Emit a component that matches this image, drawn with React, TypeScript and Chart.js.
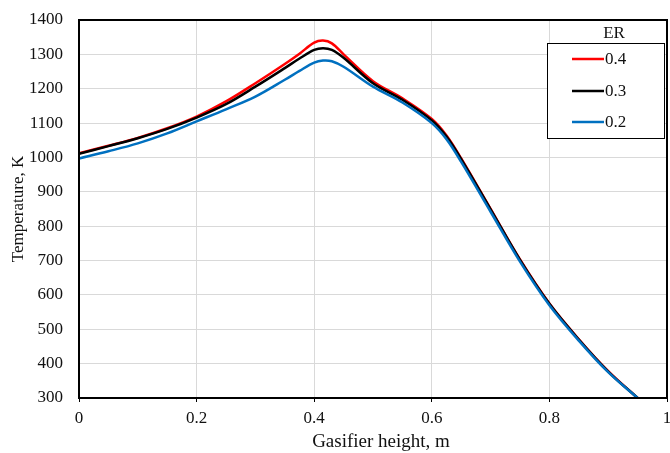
import React, { useEffect, useRef } from "react";
import { Chart, registerables } from "chart.js";

Chart.register(...registerables);

const heights = [0, 0.05, 0.1, 0.15, 0.2, 0.25, 0.3, 0.35, 0.375, 0.4, 0.415, 0.43, 0.45, 0.5, 0.55, 0.6, 0.625, 0.65, 0.7, 0.75, 0.8, 0.85, 0.9, 0.95];
const er04 = [1012, 1034, 1057, 1085, 1119, 1163, 1216, 1272, 1302, 1334, 1340, 1332, 1300, 1222, 1172, 1112, 1064, 997, 850, 703, 575, 471, 378, 300];
const er03 = [1011, 1033, 1056, 1083, 1116, 1155, 1206, 1260, 1288, 1313, 1318, 1313, 1290, 1216, 1168, 1108, 1061, 995, 849, 702, 574, 470, 377, 300];
const er02 = [997, 1018, 1041, 1070, 1105, 1140, 1177, 1226, 1252, 1276, 1282, 1280, 1264, 1206, 1160, 1100, 1053, 987, 842, 697, 570, 467, 375, 300];
const xTicks = [0, 0.2, 0.4, 0.6, 0.8, 1];
const seriesLabels = ["0.4", "0.3", "0.2"];
const seriesColors = ["#ff0000", "#000000", "#0070c0"];
const legendTitle = "ER";
const xTitle = "Gasifier height, m";
const yTitle = "Temperature, K";

const FONT = "'Liberation Serif', 'Times New Roman', serif";

const frameAndLegend = {
  id: "frameAndLegend",
  afterDatasetsDraw(chart: any) {
    const { ctx, chartArea } = chart;
    const { left, right, top, bottom } = chartArea;
    ctx.save();
    ctx.strokeStyle = "#000";
    ctx.lineWidth = 2;
    ctx.strokeRect(left, top, right - left, bottom - top);
    const bx = right - 120;
    const by = top + 23;
    const bw = 117;
    const bh = 95;
    ctx.fillStyle = "#fff";
    ctx.fillRect(bx, by, bw, bh);
    ctx.lineWidth = 1;
    ctx.strokeRect(bx + 0.5, by + 0.5, bw, bh);
    ctx.fillStyle = "#111";
    ctx.font = `17px ${FONT}`;
    ctx.textAlign = "center";
    ctx.textBaseline = "middle";
    ctx.fillText(legendTitle, bx + 67, top + 14);
    const rows = [by + 16, by + 48, by + 79];
    seriesLabels.forEach((lab, i) => {
      ctx.strokeStyle = seriesColors[i];
      ctx.lineWidth = 2.5;
      ctx.beginPath();
      ctx.moveTo(bx + 25, rows[i]);
      ctx.lineTo(bx + 57, rows[i]);
      ctx.stroke();
      ctx.fillStyle = "#111";
      ctx.textAlign = "left";
      ctx.fillText(lab, bx + 58, rows[i] + 1);
    });
    // x-axis title
    ctx.font = `19px ${FONT}`;
    ctx.textAlign = "center";
    ctx.fillText(xTitle, (left + right) / 2 + 8, bottom + 44);
    ctx.restore();
  },
};

export default function App() {
  const ref = useRef<HTMLCanvasElement | null>(null);
  useEffect(() => {
    document.body.style.margin = "0";
    const mk = (ys: number[]) => heights.map((x, i) => ({ x, y: ys[i] }));
    const allY = [er04, er03, er02];
    const chart = new Chart(ref.current as HTMLCanvasElement, {
      type: "line",
      data: {
        datasets: allY.map((ys, i) => ({
          label: seriesLabels[i],
          data: mk(ys),
          borderColor: seriesColors[i],
          backgroundColor: seriesColors[i],
          borderWidth: 2.5,
          pointRadius: 0,
          tension: 0.35,
          fill: false,
          order: 3 - i,
        })),
      },
      options: {
        animation: false,
        responsive: false,
        maintainAspectRatio: false,
        layout: { padding: { top: 20, right: 3, left: 0, bottom: 0 } },
        plugins: { legend: { display: false }, tooltip: { enabled: false } },
        scales: {
          x: {
            type: "linear",
            min: 0,
            max: 1,
            afterBuildTicks(scale: any) {
              scale.ticks = xTicks.map((v) => ({ value: v }));
            },
            ticks: {
              color: "#111",
              font: { family: FONT, size: 17 },
              padding: 6,
              maxRotation: 0,
              callback: (v: any) => String(v),
            },
            grid: { color: "#d9d9d9", lineWidth: 1, drawTicks: true, tickLength: 4, tickColor: "#000" },
            border: { display: false },
            title: { display: false, text: xTitle },
            afterFit(scale: any) {
              scale.height = 55;
              scale.paddingRight = 0;
              scale.paddingLeft = 0;
            },
          },
          y: {
            type: "linear",
            min: 300,
            max: 1400,
            ticks: {
              stepSize: 100,
              color: "#111",
              font: { family: FONT, size: 17 },
              padding: 16,
              callback: (v: any) => String(v),
            },
            grid: { color: "#d9d9d9", lineWidth: 1, drawTicks: false },
            border: { display: false },
            title: { display: true, text: yTitle, color: "#111", font: { family: FONT, size: 17 }, padding: { top: 8, bottom: 0 } },
            afterFit(scale: any) {
              scale.width = 79;
              scale.paddingTop = 0;
              scale.paddingBottom = 0;
            },
          },
        },
      },
      plugins: [frameAndLegend],
    });
    return () => chart.destroy();
  }, []);
  return (
    <div style={{ width: 670, height: 453 }}>
      <canvas ref={ref} width={670} height={453} style={{ display: "block" }} />
    </div>
  );
}
